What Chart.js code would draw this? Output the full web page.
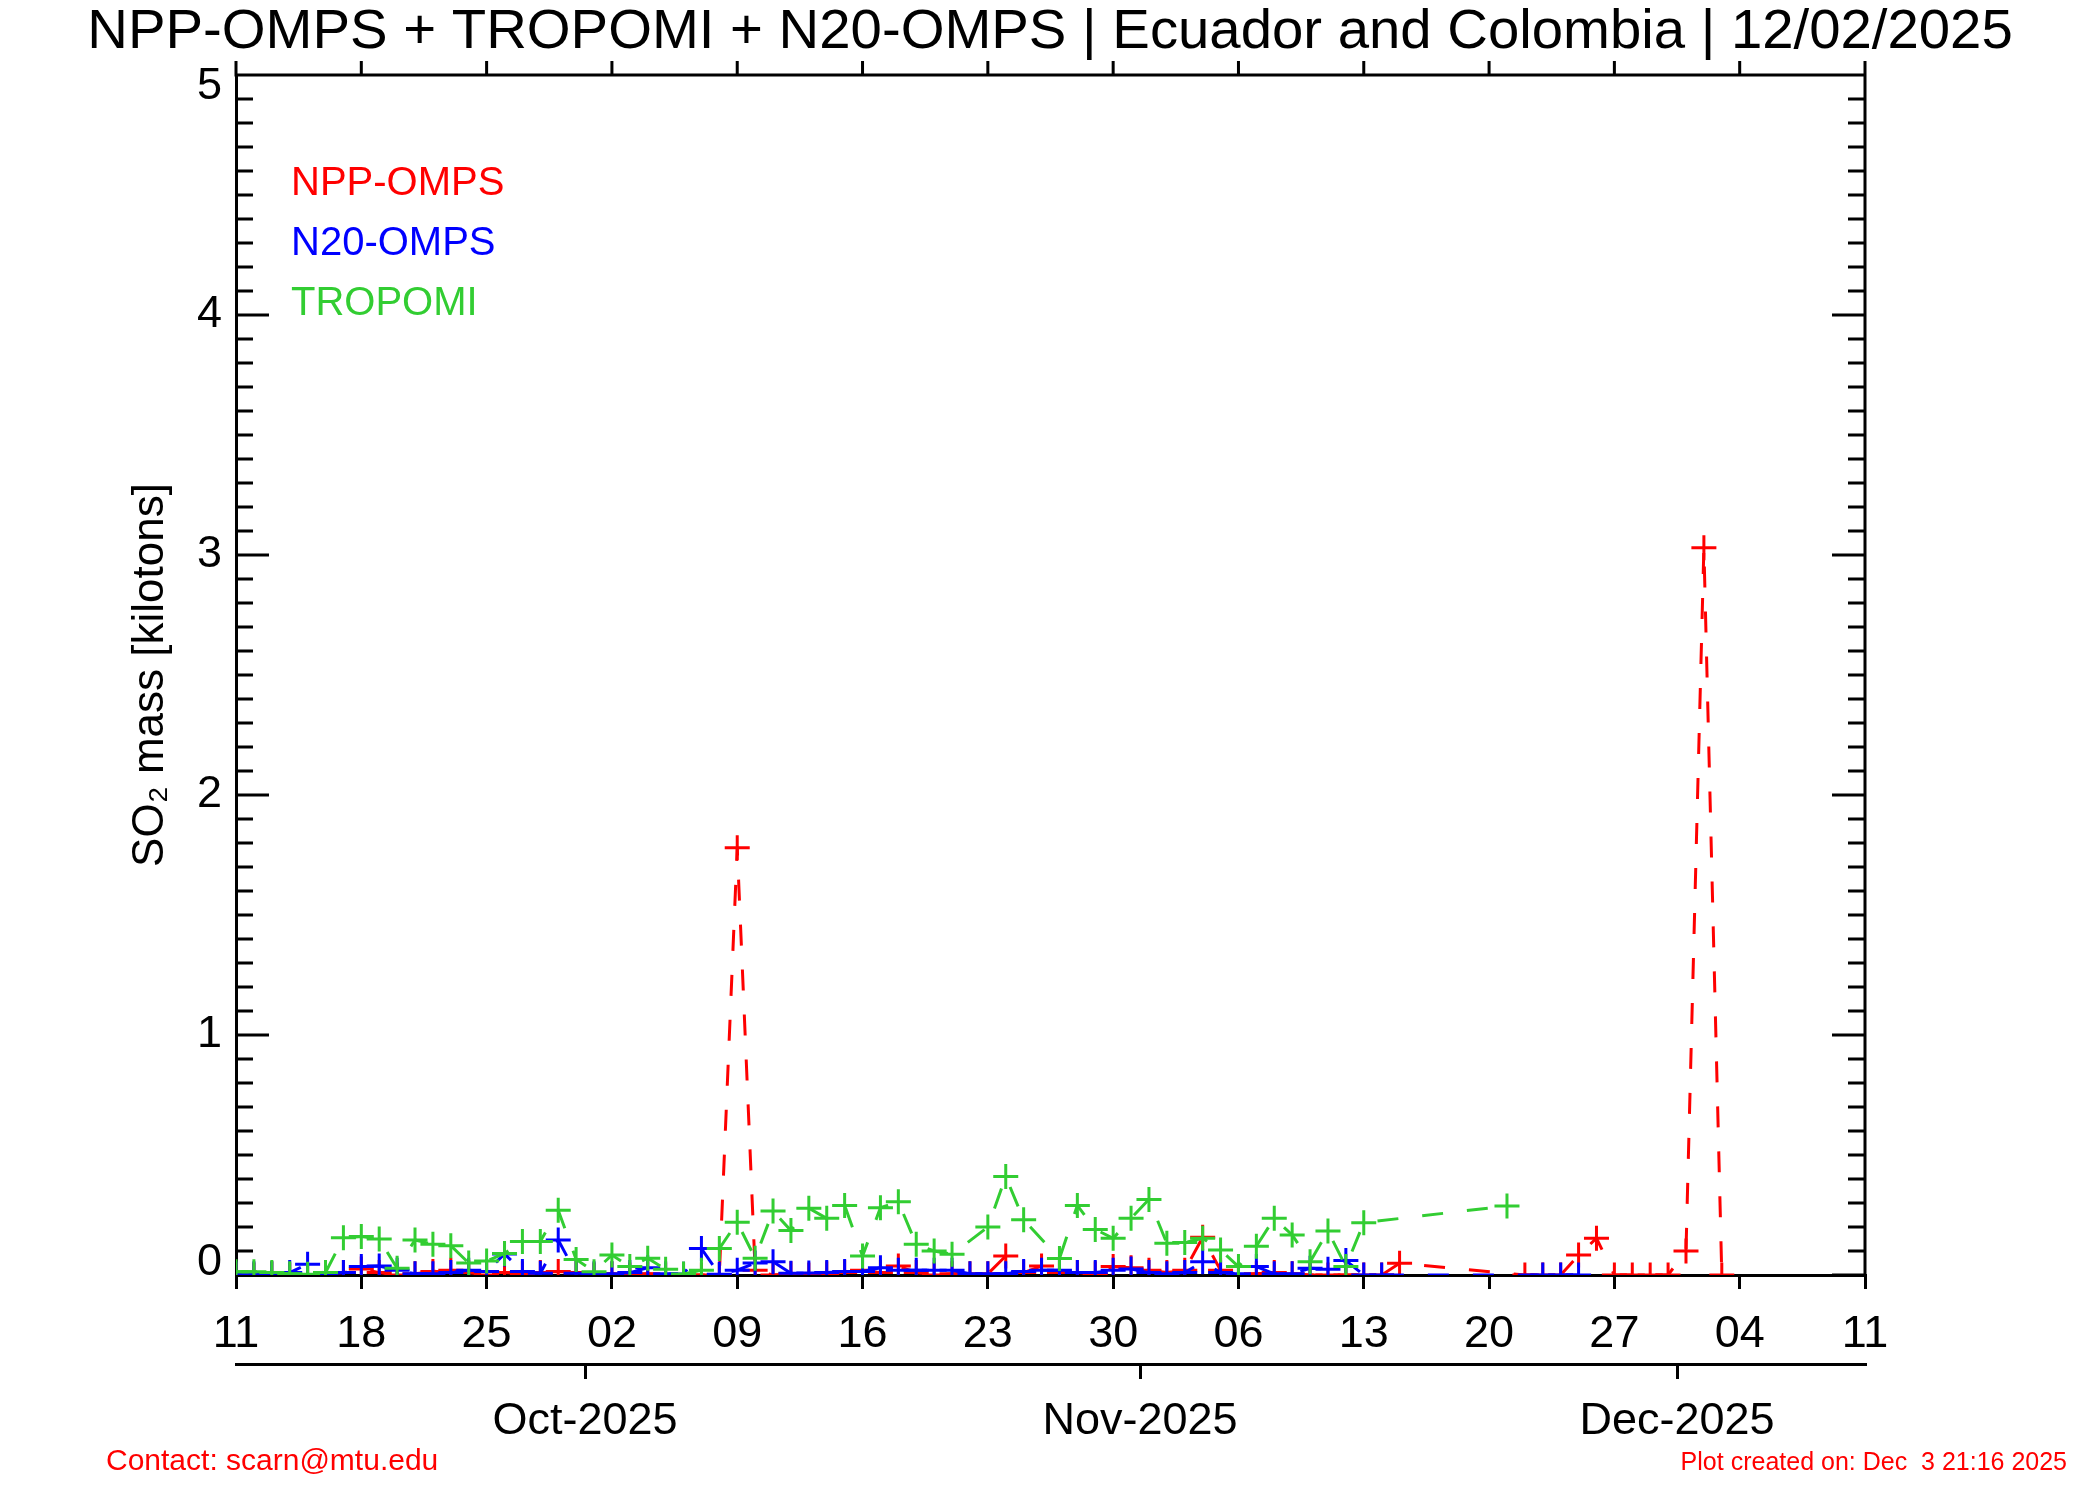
<!DOCTYPE html>
<html>
<head>
<meta charset="utf-8">
<script src="https://cdn.jsdelivr.net/npm/chart.js@4.4.1/dist/chart.umd.min.js"></script>
<style>
html,body{margin:0;padding:0;background:#ffffff;}
#wrap{width:2100px;height:1500px;}
</style>
</head>
<body>
<div id="wrap"><canvas id="c" width="2100" height="1500"></canvas></div>
<script>
// ---------------- data ----------------
const titleText = 'NPP-OMPS + TROPOMI + N20-OMPS | Ecuador and Colombia | 12/02/2025';
const yAxisTitle = 'SO\u2082 mass [kilotons]';
const contactText = 'Contact: scarn@mtu.edu';
const createdText = 'Plot created on: Dec  3 21:16 2025';

const startDate = '2025-09-11';          // day index 0
const endDate = '2025-12-11';            // last day on the axis
const weekTickLabels = ['11','18','25','02','09','16','23','30','06','13','20','27','04','11'];
const monthLabels = ['Oct-2025','Nov-2025','Dec-2025'];
const monthStartDates = ['2025-10-01','2025-11-01','2025-12-01'];
const yTickLabels = ['0','1','2','3','4','5'];

const seriesNames = ['NPP-OMPS','N20-OMPS','TROPOMI'];
const seriesColors = ['#ff0000','#0000ff','#32cd32'];

// daily values (kilotons), one entry per day from startDate; null = no retrieval
const nppValues = [
  0.0, 0.0, 0.005, 0.0, 0.0, 0.005, 0.01, 0.025, 0.01, 0.0,
  0.005, 0.015, 0.02, 0.01, 0.0, 0.01, 0.005, 0.01, 0.015, 0.01,
  0.0, 0.005, 0.0, 0.005, 0.0, 0.0, 0.0, 0.0, 1.78, 0.02,
  0.0, 0.005, 0.0, 0.005, 0.01, 0.02, 0.01, 0.037, 0.01, 0.0,
  0.005, 0.005, 0.005, 0.079, 0.01, 0.037, 0.01, 0.01, 0.005, 0.035,
  0.03, 0.02, 0.01, 0.02, 0.157, 0.02, 0.0, 0.005, 0.01, 0.005,
  0.0, 0.0, 0.0, 0.0, 0.0, 0.049, null, null, null, null,
  null, null, 0.0, 0.0, 0.0, 0.083, 0.153, 0.0, 0.0, 0.0,
  0.0, 0.10, 3.03, 0.0, null, null, null, null, null, null,
  null, null
];
const n20Values = [
  0.005, 0.005, 0.005, 0.01, 0.045, 0.005, 0.01, 0.035, 0.037, 0.02,
  0.005, 0.005, 0.01, 0.02, 0.015, 0.088, 0.015, 0.007, 0.146, 0.007,
  0.005, 0.005, 0.01, 0.03, 0.005, 0.003, 0.11, 0.003, 0.02, 0.05,
  0.055, 0.007, 0.008, 0.01, 0.015, 0.015, 0.03, 0.02, 0.02, 0.02,
  0.02, 0.005, 0.005, 0.005, 0.015, 0.02, 0.02, 0.01, 0.01, 0.02,
  0.025, 0.01, 0.005, 0.01, 0.055, 0.01, 0.005, 0.035, 0.005, 0.005,
  0.028, 0.024, 0.06, 0.0, 0.0, null, null, null, null, null,
  null, null, null, 0.0, 0.0, 0.0, null, null, null, null,
  null, null, null, null, null, null, null, null, null, null,
  null, null
];
const tropomiValues = [
  0.014, 0.014, 0.01, 0.005, 0.003, 0.01, 0.155, 0.16, 0.15, 0.028,
  0.146, 0.128, 0.122, 0.05, 0.058, 0.09, 0.14, 0.14, 0.27, 0.065,
  0.014, 0.083, 0.035, 0.07, 0.024, 0.004, 0.02, 0.11, 0.22, 0.07,
  0.267, 0.185, 0.278, 0.236, 0.29, 0.079, 0.28, 0.305, 0.128, 0.10,
  0.086, null, 0.20, 0.41, 0.23, null, 0.069, 0.29, 0.19, 0.153,
  0.236, 0.315, 0.132, 0.135, 0.153, 0.104, 0.035, 0.12, 0.236, 0.167,
  0.055, 0.183, 0.035, 0.218, null, null, null, null, null, null,
  null, 0.288, null, null, null, null, null, null, null, null,
  null, null, null, null, null, null, null, null, null, null,
  null, null
];

// ---------------- helpers ----------------
const DAY = 86400000;
function dayIndex(d){ return (Date.parse(d + 'T00:00:00Z') - Date.parse(startDate + 'T00:00:00Z')) / DAY; }
const xMax = dayIndex(endDate);
// month boundaries fall half a day before the labelled day ticks
const monthPositions = monthStartDates.map(d => dayIndex(d) - 0.5);
function toPoints(vals){
  const pts = [];
  vals.forEach((v, i) => { if (v !== null) pts.push({x: i, y: v}); });
  return pts;
}
const FONT = "'Liberation Sans', Arial, Helvetica, sans-serif";
Chart.defaults.font.family = FONT;
Chart.defaults.color = '#000000';

function mkDataset(i, vals, order){
  return {
    label: seriesNames[i],
    data: toPoints(vals),
    borderColor: seriesColors[i],
    backgroundColor: seriesColors[i],
    borderWidth: 3,
    borderDash: [21, 24],
    tension: 0,
    spanGaps: true,
    pointStyle: 'cross',
    pointRadius: 12.5,
    pointBorderWidth: 3,
    pointBorderColor: seriesColors[i],
    pointHoverRadius: 12.5,
    clip: 0,
    order: order,
    xAxisID: 'x',
    yAxisID: 'y'
  };
}

// frame, top ticks and inward y ticks
const framePlugin = {
  id: 'frame',
  beforeDatasetsDraw(chart){
    const {ctx, chartArea: a, scales} = chart;
    ctx.save();
    ctx.strokeStyle = '#000';
    ctx.lineWidth = 3;
    ctx.lineCap = 'butt';
    ctx.beginPath();
    ctx.moveTo(a.left - 1.5, a.top); ctx.lineTo(a.right + 1.5, a.top);
    ctx.moveTo(a.right, a.top); ctx.lineTo(a.right, a.bottom);
    // top ticks (outward)
    scales.x.ticks.forEach(t => {
      const px = scales.x.getPixelForValue(t.value);
      ctx.moveTo(px, a.top); ctx.lineTo(px, a.top - 14);
    });
    // y ticks inward, minor every 0.1
    const ys = scales.y;
    for (let k = 0; k <= 50; k++) {
      const v = k / 10;
      const py = ys.getPixelForValue(v);
      const len = (k % 10 === 0) ? 33 : 17;
      ctx.moveTo(a.left, py); ctx.lineTo(a.left + len, py);
      ctx.moveTo(a.right, py); ctx.lineTo(a.right - len, py);
    }
    ctx.stroke();
    ctx.restore();
  },
  afterDraw(chart){
    const {ctx, chartArea: a} = chart;
    ctx.save();
    // legend (text only, in series colours)
    ctx.font = '40px ' + FONT;
    ctx.textAlign = 'left';
    ctx.textBaseline = 'alphabetic';
    chart.data.datasets.forEach((ds, i) => {
      ctx.fillStyle = ds.borderColor;
      ctx.fillText(ds.label, a.left + 55, a.top + 120 + 60 * i);
    });
    // footer
    ctx.fillStyle = '#ff0000';
    ctx.font = '30px ' + FONT;
    ctx.textAlign = 'left';
    ctx.fillText(contactText, 106, 1470);
    ctx.font = '25px ' + FONT;
    ctx.textAlign = 'right';
    ctx.fillText(createdText, 2067, 1470);
    ctx.restore();
  }
};

new Chart(document.getElementById('c'), {
  type: 'line',
  data: {
    datasets: [
      mkDataset(0, nppValues, 2),
      mkDataset(1, n20Values, 1),
      mkDataset(2, tropomiValues, 0)
    ]
  },
  options: {
    responsive: false,
    animation: false,
    devicePixelRatio: 1,
    layout: { padding: { left: 0, right: 0, top: 0, bottom: 0 } },
    plugins: {
      legend: { display: false },
      tooltip: { enabled: false },
      title: {
        display: true,
        text: titleText,
        color: '#000',
        font: { size: 56.3, weight: 'normal', lineHeight: 1.0 },
        padding: { top: 4.35, bottom: 14.35 }
      }
    },
    scales: {
      x: {
        type: 'linear', position: 'bottom', min: 0, max: xMax, weight: 0,
        ticks: {
          stepSize: 7, autoSkip: false, maxRotation: 0, minRotation: 0,
          padding: 19, font: { size: 45 }, color: '#000',
          callback: (v, i) => weekTickLabels[i]
        },
        grid: { display: true, drawOnChartArea: false, drawTicks: true, tickLength: 14, lineWidth: 3, color: '#000' },
        border: { display: true, width: 3, color: '#000' },
        afterFit: s => { s.height = 89; }
      },
      x2: {
        type: 'linear', position: 'bottom', min: 0, max: xMax, weight: 1,
        afterBuildTicks: s => { s.ticks = monthPositions.map(v => ({ value: v })); },
        ticks: {
          autoSkip: false, maxRotation: 0, minRotation: 0,
          padding: 16, font: { size: 45 }, color: '#000',
          callback: (v, i) => monthLabels[i]
        },
        grid: { display: true, drawOnChartArea: false, drawTicks: true, tickLength: 15, lineWidth: 3, color: '#000' },
        border: { display: true, width: 3, color: '#000' },
        afterFit: s => { s.height = 136; }
      },
      y: {
        type: 'linear', position: 'left', min: 0, max: 5,
        ticks: {
          stepSize: 1, padding: 14, font: { size: 45, lineHeight: 0.53 }, color: '#000',
          // end labels nudged inside the axis range, as in the original plot
          callback: (v, i, all) => i === 0 ? [yTickLabels[i], ''] :
                                   (i === all.length - 1 ? ['', yTickLabels[i]] : yTickLabels[i])
        },
        grid: { display: false, drawTicks: false },
        border: { display: true, width: 3, color: '#000' },
        title: {
          display: true, text: yAxisTitle, color: '#000',
          font: { size: 44, lineHeight: 1.2 },
          padding: { top: 124, bottom: 0 }
        },
        afterFit: s => { s.width = 236; }
      },
      yR: {
        type: 'linear', position: 'right', min: 0, max: 5, display: true,
        ticks: { display: false },
        grid: { display: false, drawTicks: false },
        border: { display: false },
        afterFit: s => { s.width = 235; }
      }
    }
  },
  plugins: [framePlugin]
});
</script>
</body>
</html>
